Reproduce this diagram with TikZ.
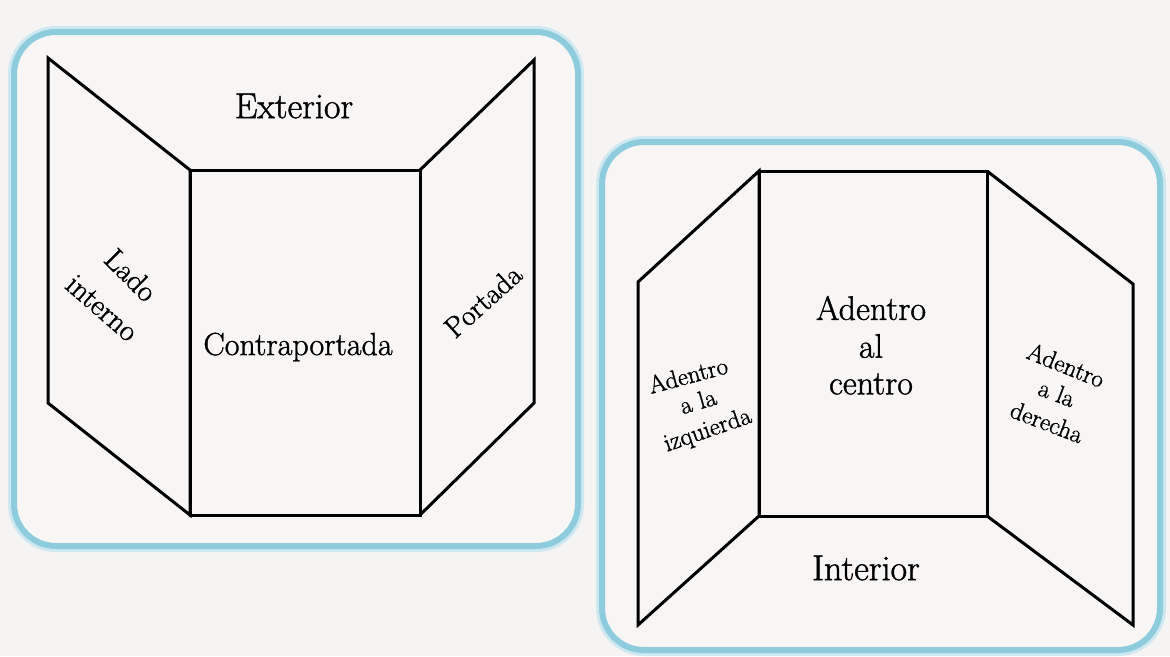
\documentclass[tikz,border=0pt]{standalone}
\usepackage{fontspec}
\setmainfont{Latin Modern Roman}[BoldFont={Latin Modern Roman},BoldFeatures={FakeBold=1.2}]
\begin{document}
\begin{tikzpicture}[x=1pt,y=-1pt,
  panel/.style={draw=black,line width=3pt,line join=miter},
  frameglow/.style={draw=boxglow,line width=12pt,rounded corners=42pt},
  frameline/.style={draw=boxblue,line width=6pt,rounded corners=42pt,fill=boxfill},
  txt/.style={inner sep=0pt,font=\bfseries\fontsize{#1}{#1}\selectfont},
  big/.style={txt=34},
  side/.style={txt=30},
  small/.style={txt=25}]
\definecolor{bg}{HTML}{F6F4F3}
\definecolor{boxfill}{HTML}{F8F6F5}
\definecolor{boxblue}{HTML}{8CCCDD}
\definecolor{boxglow}{HTML}{CDE8F0}
\fill[bg] (0,0) rectangle (1170,656);
\useasboundingbox (0,0) rectangle (1170,656);
% frames
\draw[frameglow] (14,32) rectangle (578,546);
\draw[frameline] (14,32) rectangle (578,546);
\draw[frameglow] (602,142) rectangle (1160,650);
\draw[frameline] (602,142) rectangle (1160,650);
% left brochure (exterior)
\coordinate (a1) at (48,58);
\coordinate (a2) at (48,403);
\coordinate (a3) at (190,170);
\coordinate (a4) at (190,515);
\coordinate (a5) at (420,170);
\coordinate (a6) at (420,515);
\coordinate (a7) at (534,60);
\coordinate (a8) at (534,403);
\draw[panel] (a3) -- (a1) -- (a2) -- (a4) -- cycle;
\draw[panel] (a3) -- (a5) -- (a6) -- (a4) -- cycle;
\draw[panel] (a5) -- (a7) -- (a8) -- (a6);
% right brochure (interior)
\coordinate (b1) at (638,282);
\coordinate (b2) at (638,625);
\coordinate (b3) at (759,171);
\coordinate (b4) at (759,516);
\coordinate (b5) at (987,171);
\coordinate (b6) at (987,516);
\coordinate (b7) at (1133,284);
\coordinate (b8) at (1133,625);
\draw[panel] (b3) -- (b1) -- (b2) -- (b4) -- cycle;
\draw[panel] (b3) -- (b5) -- (b6) -- (b4) -- cycle;
\draw[panel] (b5) -- (b7) -- (b8) -- (b6);
% labels left
\node[txt=36] (ext) at (294,106) {Exterior};
\node[txt=32] (contra) at (298,347) {Contraportada};
\node[side,rotate=-45] (lado) at (131,275) {Lado};
\node[side,rotate=-41] (interno) at (102,308) {interno};
\node[txt=29,rotate=42] (portada) at (483,301) {Portada};
% labels right
\node[txt=36] (int) at (866,568) {Interior};
\node[big] (c1) at (871,308) {Adentro};
\node[big] (c2) at (871,346) {al};
\node[big] (c3) at (871,384) {centro};
\node[small,rotate=15] (l1) at (688,375) {Adentro};
\node[small,rotate=16] (l2) at (698,401) {a la};
\node[small,rotate=19] (l3) at (708,431) {izquierda};
\node[small,rotate=-22] (r1) at (1066,365) {Adentro};
\node[small,rotate=-21] (r2) at (1057,393) {a la};
\node[small,rotate=-21] (r3) at (1047,422) {derecha};
\end{tikzpicture}
\end{document}
